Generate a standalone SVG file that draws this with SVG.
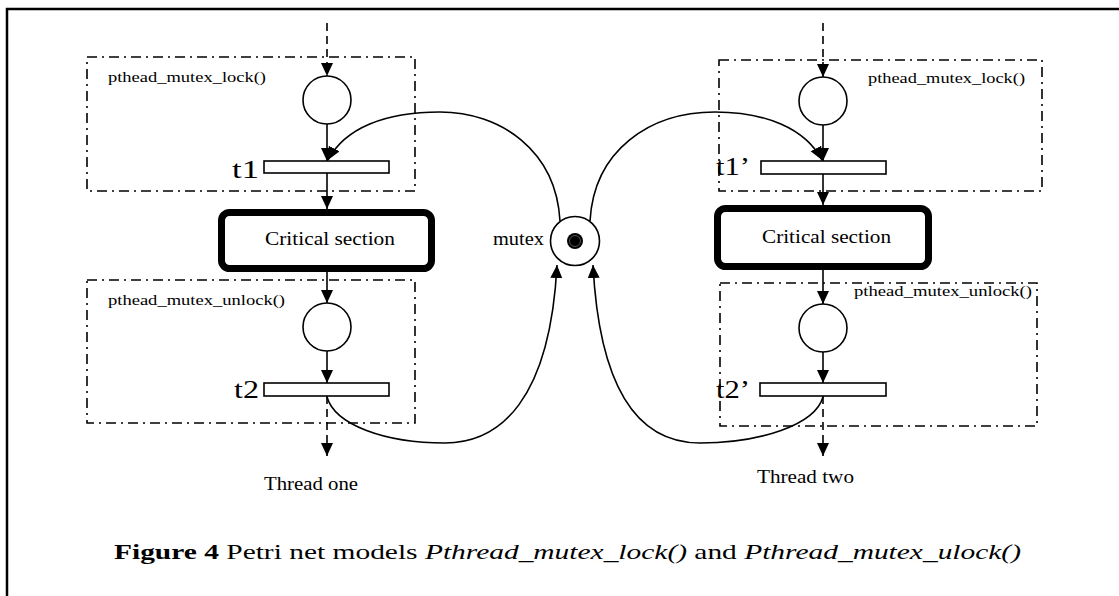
<svg xmlns="http://www.w3.org/2000/svg" width="1119" height="596" viewBox="0 0 1119 596">
  <style>
    .frame { fill: none; stroke: #000; stroke-width: 2.5; }
    .scope { fill: none; stroke: #000; stroke-width: 1.6; stroke-dasharray: 10 5 2 5; }
    .place { fill: #fff; stroke: #000; stroke-width: 1.6; }
    .trans { fill: #fff; stroke: #000; stroke-width: 1.6; }
    .crit { fill: #fff; stroke: #000; stroke-width: 7; }
    .arc { fill: none; stroke: #000; stroke-width: 1.6; }
    .flow { fill: none; stroke: #000; stroke-width: 1.6; stroke-dasharray: 8 5; }
    text { font-family: "Liberation Serif", "Times New Roman", serif; fill: #000; }
    .scope-label { font-size: 15px; }
    .tlabel { font-size: 26px; }
    .crit-label { font-size: 19px; }
    .thread-label { font-size: 19px; }
    .caption { font-size: 21px; }
  </style>
  <defs>
    <marker id="arrow" markerUnits="userSpaceOnUse" markerWidth="14" markerHeight="13" refX="13" refY="6" orient="auto">
      <path d="M0,0 L13,6 L0,12 Z" fill="#000"/>
    </marker>
  </defs>

  <!-- page frame (top and left rules) -->
  <path class="frame" d="M7,596 V9 H1119"/>

  <!-- thread one -->
  <g id="lock-scope-one">
    <rect class="scope" x="87" y="57" width="328" height="134"/>
    <text class="scope-label" x="108" y="82" textLength="158" lengthAdjust="spacingAndGlyphs">pthead_mutex_lock()</text>
  </g>
  <g id="p-lock-one">
    <circle class="place" cx="327" cy="100" r="24"/>
  </g>
  <g id="t1">
    <rect class="trans" x="264" y="161" width="125" height="12"/>
    <text class="tlabel" x="232" y="178" textLength="27" lengthAdjust="spacingAndGlyphs">t1</text>
  </g>
  <g id="critical-one">
    <rect class="crit" x="221.5" y="212.5" width="210" height="56" rx="8"/>
    <text class="crit-label" x="265" y="245" textLength="130" lengthAdjust="spacingAndGlyphs">Critical section</text>
  </g>
  <g id="unlock-scope-one">
    <rect class="scope" x="87" y="280" width="328" height="143"/>
    <text class="scope-label" x="108" y="305" textLength="177" lengthAdjust="spacingAndGlyphs">pthead_mutex_unlock()</text>
  </g>
  <g id="p-unlock-one">
    <circle class="place" cx="327" cy="327" r="24"/>
  </g>
  <g id="t2">
    <rect class="trans" x="264" y="383" width="125" height="13"/>
    <text class="tlabel" x="234" y="398" textLength="25" lengthAdjust="spacingAndGlyphs">t2</text>
  </g>
  <g id="thread-one">
    <text class="thread-label" x="264" y="490" textLength="94" lengthAdjust="spacingAndGlyphs">Thread one</text>
  </g>

  <!-- shared mutex place with its token -->
  <g id="mutex">
    <circle class="place" cx="575" cy="241" r="24.5" stroke-width="1.8"/>
    <circle cx="575" cy="241" r="8" fill="#000"/>
    <circle cx="575" cy="241" r="5.5" fill="none" stroke="#777" stroke-width="0.7"/>
    <text class="crit-label" x="493" y="245" textLength="51" lengthAdjust="spacingAndGlyphs">mutex</text>
  </g>

  <!-- thread two -->
  <g id="lock-scope-two">
    <rect class="scope" x="719" y="60" width="323" height="131"/>
    <text class="scope-label" x="868" y="83" textLength="157" lengthAdjust="spacingAndGlyphs">pthead_mutex_lock()</text>
  </g>
  <g id="p-lock-two">
    <circle class="place" cx="823" cy="101" r="24"/>
  </g>
  <g id="t1-prime">
    <rect class="trans" x="761" y="161" width="125" height="13"/>
    <text class="tlabel" x="716" y="175" textLength="34" lengthAdjust="spacingAndGlyphs">t1’</text>
  </g>
  <g id="critical-two">
    <rect class="crit" x="717.5" y="208.5" width="211" height="58" rx="8"/>
    <text class="crit-label" x="762" y="243" textLength="129" lengthAdjust="spacingAndGlyphs">Critical section</text>
  </g>
  <g id="unlock-scope-two">
    <rect class="scope" x="720" y="283" width="317" height="143"/>
    <text class="scope-label" x="854" y="296" textLength="178" lengthAdjust="spacingAndGlyphs">pthead_mutex_unlock()</text>
  </g>
  <g id="p-unlock-two">
    <circle class="place" cx="823" cy="328" r="24"/>
  </g>
  <g id="t2-prime">
    <rect class="trans" x="760" y="383" width="126" height="13"/>
    <text class="tlabel" x="716" y="398" textLength="34" lengthAdjust="spacingAndGlyphs">t2’</text>
  </g>
  <g id="thread-two">
    <text class="thread-label" x="757" y="483" textLength="97" lengthAdjust="spacingAndGlyphs">Thread two</text>
  </g>

  <!-- arcs -->
  <g id="connectors">
    <!-- thread one -->
    <path class="flow" d="M327,23 V76" marker-end="url(#arrow)"/>
    <path class="arc" d="M327,124 V161" marker-end="url(#arrow)"/>
    <path class="arc" d="M327,173 V209" marker-end="url(#arrow)"/>
    <path class="arc" d="M327,272 V303" marker-end="url(#arrow)"/>
    <path class="arc" d="M327,351 V383" marker-end="url(#arrow)"/>
    <path class="flow" d="M327,396 V456" marker-end="url(#arrow)"/>
    <!-- thread two -->
    <path class="flow" d="M823,23 V77" marker-end="url(#arrow)"/>
    <path class="arc" d="M823,125 V161" marker-end="url(#arrow)"/>
    <path class="arc" d="M823,174 V205" marker-end="url(#arrow)"/>
    <path class="arc" d="M823,270 V304" marker-end="url(#arrow)"/>
    <path class="arc" d="M823,352 V383" marker-end="url(#arrow)"/>
    <path class="flow" d="M823,396 V456" marker-end="url(#arrow)"/>
    <!-- mutex to t1 / t1' -->
    <path class="arc" d="M560,221 C556,150 500,112 440,112 C385,112 345,128 328,160" marker-end="url(#arrow)"/>
    <path class="arc" d="M590,221 C594,150 650,112 715,112 C765,112 805,128 822,160" marker-end="url(#arrow)"/>
    <!-- t2 / t2' back to mutex -->
    <path class="arc" d="M327,397 C335,425 385,443 445,443 C500,443 550,400 557,265" marker-end="url(#arrow)"/>
    <path class="arc" d="M823,397 C815,425 760,443 700,443 C645,443 600,400 593,265" marker-end="url(#arrow)"/>
  </g>

  <!-- figure caption -->
  <text class="caption" x="114" y="559" textLength="907" lengthAdjust="spacingAndGlyphs"><tspan font-weight="bold">Figure 4</tspan> Petri net models <tspan font-style="italic">Pthread_mutex_lock()</tspan> and <tspan font-style="italic">Pthread_mutex_ulock()</tspan></text>
</svg>
